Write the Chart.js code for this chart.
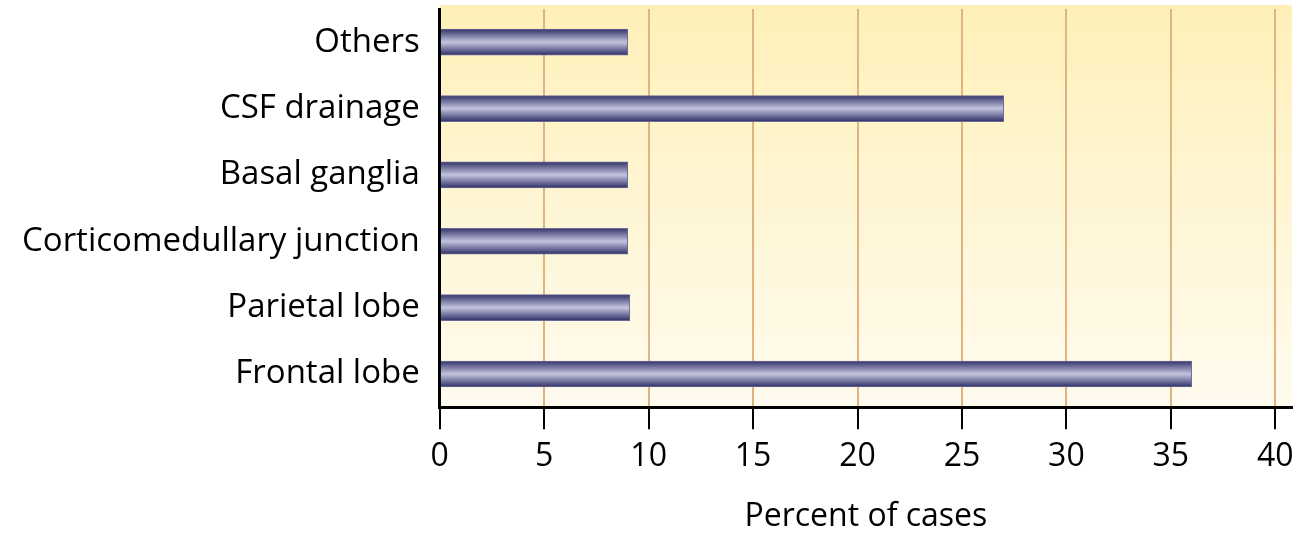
<!DOCTYPE html>
<html>
<head>
<meta charset="utf-8">
<script src="https://cdn.jsdelivr.net/npm/chart.js@4"></script>
<style>
  html, body { margin: 0; padding: 0; background: #fff; }
  #wrap { width: 1307px; height: 542px; }
</style>
</head>
<body>
<div id="wrap"><canvas id="bars"></canvas></div>
<script>
// top to bottom
const categories = ['Others', 'CSF drainage', 'Basal ganglia', 'Corticomedullary junction', 'Parietal lobe', 'Frontal lobe'];
const percentCases = [9, 27, 9, 9, 9.1, 36];
const xTicks = [0, 5, 10, 15, 20, 25, 30, 35, 40];

const FONT = '"Open Sans", "Noto Sans", sans-serif';

// yellow fade behind the plot
const plotBg = {
    id: 'plotBg',
    beforeDraw(chart) {
        const { ctx, chartArea: a } = chart;
        const g = ctx.createLinearGradient(0, a.top - 4, 0, a.bottom);
        g.addColorStop(0, '#fff0b9');
        g.addColorStop(1, '#fffbef');
        ctx.save();
        ctx.fillStyle = g;
        ctx.fillRect(a.left, a.top - 4, a.right - a.left, a.bottom - a.top + 4);
        ctx.restore();
    }
};

function barFill(c) {
    const chart = c.chart;
    const y = chart.scales.y;
    if (!y || c.dataIndex === undefined) return '#5a5a90';
    const mid = y.getPixelForValue(c.dataIndex);
    if (!isFinite(mid)) return '#5a5a90';
    const h = 13;
    const g = chart.ctx.createLinearGradient(0, mid - h, 0, mid + h);
    g.addColorStop(0, '#34346a');
    g.addColorStop(0.5, '#c4c4de');
    g.addColorStop(1, '#2e2e66');
    return g;
}

const bars = new Chart(document.getElementById('bars').getContext('2d'), {
    type: 'bar',
    data: {
        labels: categories,
        datasets: [{
            data: percentCases,
            backgroundColor: barFill,
            borderColor: '#6a6a98',
            borderWidth: 1,
            barThickness: 26
        }]
    },
    plugins: [plotBg],
    options: {
        indexAxis: 'y',
        responsive: true,
        maintainAspectRatio: false,
        animation: false,
        layout: { padding: { top: 9, right: 15, left: 2, bottom: 6 } },
        plugins: { legend: { display: false }, tooltip: { enabled: false } },
        scales: {
            x: {
                min: 0,
                max: 40.8,
                afterBuildTicks: s => { s.ticks = xTicks.map(v => ({ value: v })); },
                grid: {
                    color: '#dfb47e',
                    lineWidth: 2,
                    tickColor: '#000',
                    tickWidth: 2,
                    tickLength: 22
                },
                border: { display: true, color: '#000', width: 3 },
                ticks: {
                    color: '#000',
                    padding: 8,
                    maxRotation: 0,
                    font: { family: FONT, size: 32 }
                },
                title: {
                    display: true,
                    text: 'Percent of cases',
                    color: '#000',
                    padding: { top: 14, bottom: 0 },
                    font: { family: FONT, size: 32 }
                }
            },
            y: {
                afterFit: s => { s.paddingTop = 0; s.paddingBottom = 0; },
                grid: { display: false, drawTicks: false },
                border: { display: true, color: '#000', width: 3 },
                ticks: {
                    color: '#000',
                    padding: 20,
                    font: { family: FONT, size: 33 }
                }
            }
        }
    }
});
</script>
</body>
</html>
